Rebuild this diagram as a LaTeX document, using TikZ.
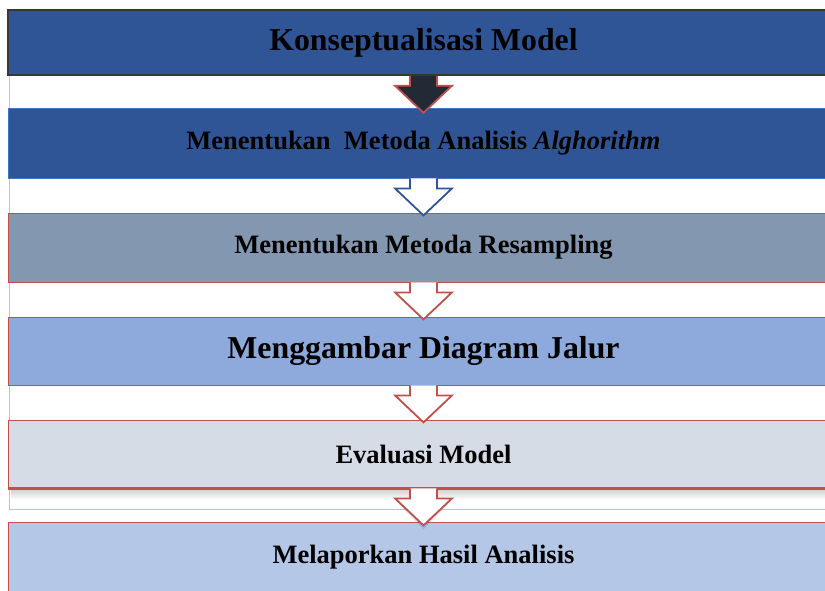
\documentclass[tikz,border=0pt]{standalone}
\usepackage{fontspec}
\setmainfont{Liberation Serif}
\usetikzlibrary{calc}
\definecolor{darkblue}{HTML}{2F5597}
\definecolor{midblue}{HTML}{4472C4}
\definecolor{grayblue}{HTML}{8497B0}
\definecolor{softblue}{HTML}{8EA9DB}
\definecolor{palegray}{HTML}{D6DCE5}
\definecolor{paleblue}{HTML}{B4C7E7}
\definecolor{redline}{HTML}{C0504D}
\definecolor{framegray}{HTML}{B8C4D6}
\definecolor{arrowdark}{HTML}{222A35}
\definecolor{boxedge}{HTML}{383838}
\tikzset{
  stepbox/.style={rectangle, minimum width=831pt, inner sep=0pt, font=\bfseries\fontsize{26.5}{30}\selectfont, text=black},
  bigtext/.style={font=\bfseries\fontsize{31.8}{36}\selectfont},
}
\newcommand\flowarrow[3]{%
  \filldraw[fill=#2, draw=#3, line width=1.8pt, line join=miter]
    ($(#1.south)+(-13.5,0)$) -- ++(0,10) -- ++(-15,0) -- ($(#1.south)+(0,37)$)
    -- ($(#1.south)+(28.5,10)$) -- ++(-15,0) -- ++(0,-10);}
\begin{document}
\begin{tikzpicture}[x=1pt, y=-1pt]
\useasboundingbox (0,0) rectangle (825,590);
\clip (0,0) rectangle (825,590);
\fill[white] (0,0) rectangle (825,590);
% outer frame
\draw[framegray, line width=0.9pt] (9,10) rectangle (842,509);
% boxes
\node[stepbox, bigtext, minimum height=65pt, fill=darkblue, draw=boxedge, line width=1.5pt] (b1) at (423.5,42.5) {Konseptualisasi Model};
\node[stepbox, minimum height=70pt, fill=darkblue, draw=midblue, line width=0.8pt] (b2) at (423.5,143) {Menentukan\ \ Metoda Analisis \textit{Alghorithm}};
\node[stepbox, minimum height=69pt, fill=grayblue, draw=redline, line width=0.8pt] (b3) at (423.5,247.5) {Menentukan Metoda Resampling};
\node[stepbox, bigtext, minimum height=68pt, fill=softblue, draw=redline, line width=0.8pt] (b4) at (423.5,351) {Menggambar Diagram Jalur};
% soft shadow of box 5
\foreach \d in {3,5,7,9,11}{\fill[black, opacity=0.035] (11,488) rectangle (842,488+\d);}
\node[stepbox, minimum height=68pt, fill=palegray, draw=redline, line width=0.8pt] (b5) at (423.5,454) {Evaluasi Model};
\draw[redline, line width=2.4pt] (b5.south west) -- (b5.south east);
\node[stepbox, minimum height=70pt, fill=paleblue, draw=redline, line width=0.8pt] (b6) at (423.5,557) {Melaporkan Hasil Analisis};
% arrows
\flowarrow{b1}{arrowdark}{redline}
\flowarrow{b2}{white}{darkblue}
\flowarrow{b3}{white}{redline}
\flowarrow{b4}{white}{redline}
\fill[black, opacity=0.10] ($(b5.south)+(-27,13)$) -- ($(b5.south)+(0,41)$) -- ($(b5.south)+(27,13)$) -- cycle;
\flowarrow{b5}{white}{redline}
\end{tikzpicture}
\end{document}
